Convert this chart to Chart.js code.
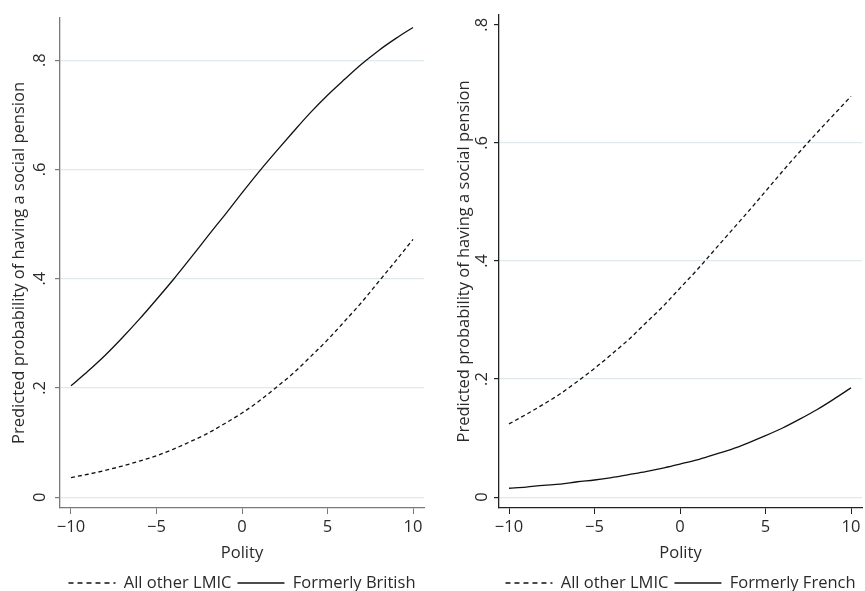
<!DOCTYPE html>
<html>
<head>
<meta charset="utf-8">
<script src="https://cdn.jsdelivr.net/npm/chart.js@4/dist/chart.umd.min.js"></script>
<style>
  html, body { margin: 0; padding: 0; background: #fff; }
  #wrap { position: relative; width: 865px; height: 591px; }
  .panel { position: absolute; top: 0; height: 591px; }
</style>
</head>
<body>
<div id="wrap">
  <div class="panel" style="left:0;width:432px"><canvas id="c1" width="432" height="591"></canvas></div>
  <div class="panel" style="left:432px;width:433px"><canvas id="c2" width="433" height="591"></canvas></div>
</div>
<script>
// ---- Data ----
const polity = [-10,-9,-8,-7,-6,-5,-4,-3,-2,-1,0,1,2,3,4,5,6,7,8,9,10];

// Left panel
const leftOtherLMIC = [0.036,0.042,0.049,0.057,0.066,0.076,0.088,0.102,0.117,0.135,0.154,0.176,0.201,0.227,0.257,0.288,0.322,0.357,0.395,0.433,0.472];
const formerlyBritish = [0.204,0.231,0.260,0.292,0.326,0.362,0.399,0.438,0.478,0.517,0.557,0.596,0.633,0.669,0.704,0.736,0.765,0.793,0.818,0.840,0.860];

// Right panel
const rightOtherLMIC = [0.124,0.140,0.157,0.175,0.196,0.218,0.242,0.267,0.295,0.323,0.354,0.385,0.418,0.451,0.484,0.518,0.552,0.585,0.617,0.648,0.679];
const formerlyFrench = [0.015,0.017,0.020,0.022,0.026,0.029,0.033,0.038,0.043,0.049,0.056,0.063,0.072,0.081,0.092,0.104,0.117,0.132,0.148,0.166,0.185];

const xTicks = [-10,-5,0,5,10];
const yTicks = [0,0.2,0.4,0.6,0.8];
const legendLabels = { other: 'All other LMIC', british: 'Formerly British', french: 'Formerly French' };
const xTitle = 'Polity';
const yTitle = 'Predicted probability of having a social pension';

const FS = 16.5;
Chart.defaults.font.family = "'Open Sans', sans-serif";
Chart.defaults.font.size = FS;
Chart.defaults.color = '#2a2a2a';

function pts(vals) { return polity.map((x, i) => ({ x: x, y: vals[i] })); }
function yLabel(v) { return v === 0 ? '0' : '.' + Math.round(v * 10); }
function xLabel(v) { return v < 0 ? '\u2212' + Math.abs(v) : String(v); }

function makePanel(id, o) {
  return new Chart(document.getElementById(id), {
    type: 'line',
    data: {
      datasets: [
        { label: legendLabels.other, data: pts(o.dashed), borderColor: '#111', borderWidth: 1.3,
          borderDash: [4, 3], pointRadius: 0, fill: false, cubicInterpolationMode: 'monotone' },
        { label: o.solidLabel, data: pts(o.solid), borderColor: '#111', borderWidth: 1.3,
          pointRadius: 0, fill: false, cubicInterpolationMode: 'monotone' }
      ]
    },
    options: {
      responsive: false,
      animation: false,
      devicePixelRatio: 1,
      layout: { padding: { left: 0, right: o.padRight, top: 10, bottom: -10.25 } },
      plugins: {
        tooltip: { enabled: false },
        legend: {
          position: 'bottom',
          fullSize: false,
          labels: {
            usePointStyle: true, pointStyle: 'line', pointStyleWidth: 47,
            padding: 6, color: '#2a2a2a', font: { size: FS },
            generateLabels: chart => Chart.defaults.plugins.legend.labels.generateLabels(chart).map((l, i) => Object.assign(l, {
              lineDash: chart.data.datasets[i].borderDash ? [5, 4] : [],
              lineWidth: 1.3, strokeStyle: '#111', fillStyle: '#111'
            }))
          }
        }
      },
      scales: {
        x: {
          type: 'linear', min: o.xMin, max: o.xMax,
          afterBuildTicks: s => { s.ticks = xTicks.map(v => ({ value: v })); },
          afterFit: s => { s.height = 60.75; },
          grid: { drawOnChartArea: false, drawTicks: true, tickLength: 6, tickColor: o.axisColor },
          border: { display: true, color: o.axisColor, width: 1.3 },
          ticks: { callback: xLabel, padding: 3, color: '#2a2a2a', maxRotation: 0 },
          title: { display: true, text: xTitle, color: '#2a2a2a', font: { size: FS }, padding: { top: 0, bottom: 6 } }
        },
        y: {
          type: 'linear', min: o.yMin, max: o.yMax,
          afterBuildTicks: s => { s.ticks = yTicks.map(v => ({ value: v })); },
          afterFit: s => { s.width = o.yWidth; },
          grid: {
            drawTicks: true, tickLength: 5, tickColor: o.axisColor,
            color: c => (o.hideTopGrid && c.tick && c.tick.value === 0.8) ? 'rgba(0,0,0,0)' : '#dfe9ec',
            lineWidth: 1.2
          },
          border: { display: true, color: o.axisColor, width: 1.3 },
          ticks: { callback: yLabel, minRotation: 90, maxRotation: 90, crossAlign: 'center', padding: o.yTickPad, color: '#2a2a2a' },
          title: { display: true, text: yTitle, color: '#2a2a2a', font: { size: FS }, padding: { top: o.yTitlePad, bottom: 0 } }
        }
      }
    }
  });
}

makePanel('c1', {
  dashed: leftOtherLMIC, solid: formerlyBritish, solidLabel: legendLabels.british,
  xMin: -10.643, xMax: 10.643, yMin: -0.0198, yMax: 0.8775,
  padRight: 8, yWidth: 60, yTickPad: 8, yTitlePad: 9, axisColor: '#7a7a7a', hideTopGrid: false
});
makePanel('c2', {
  dashed: rightOtherLMIC, solid: formerlyFrench, solidLabel: legendLabels.french,
  xMin: -10.585, xMax: 10.643, yMin: -0.01845, yMax: 0.8168,
  padRight: 3, yWidth: 67, yTickPad: 5, yTitlePad: 22, axisColor: '#222', hideTopGrid: true
});
</script>
</body>
</html>
